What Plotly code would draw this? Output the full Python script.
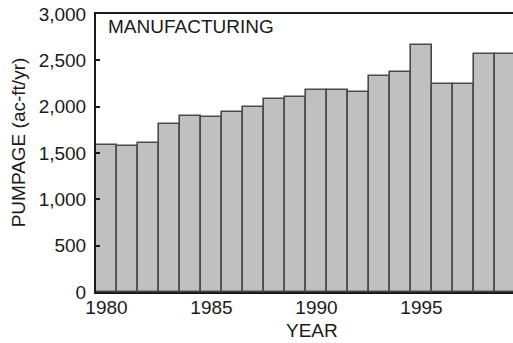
import plotly.graph_objects as go

# Annual manufacturing pumpage, acre-feet per year
years = list(range(1980, 2000))
pumpage = [1590, 1580, 1605, 1815, 1895, 1885, 1945, 2000, 2085, 2100,
           2180, 2175, 2160, 2330, 2370, 2670, 2240, 2240, 2565, 2565]

y_ticks = [0, 500, 1000, 1500, 2000, 2500, 3000]
x_ticks = [1980, 1985, 1990, 1995]

FONT = "Liberation Sans, Arial, Helvetica, sans-serif"
INK = "#1a1a1a"
SIZE = 19

fig = go.Figure(
    go.Bar(
        x=years,
        y=pumpage,
        marker=dict(color="#c0c0c0", line=dict(color="#4a4a4a", width=1.6)),
        width=1.0,
        hoverinfo="x+y",
    )
)

fig.update_layout(
    width=513,
    height=343,
    margin=dict(l=96, r=0, t=14, b=51),
    paper_bgcolor="white",
    plot_bgcolor="white",
    bargap=0,
    showlegend=False,
    font=dict(family=FONT, size=SIZE, color=INK),
)

fig.update_xaxes(
    range=[1979.5, 1999.357],
    tickvals=x_ticks,
    ticks="",
    showgrid=False,
    zeroline=False,
    showline=True,
    linecolor=INK,
    linewidth=2,
    mirror=True,
    tickfont=dict(family=FONT, size=SIZE, color=INK),
    ticklabelstandoff=-3,
)

fig.update_yaxes(
    range=[0, 3000],
    tickvals=y_ticks,
    tickformat=",d",
    ticks="inside",
    ticklen=4,
    tickwidth=1.5,
    tickcolor=INK,
    showgrid=False,
    zeroline=False,
    showline=True,
    linecolor=INK,
    linewidth=2,
    tickfont=dict(family=FONT, size=SIZE, color=INK),
    ticklabelstandoff=4,
)

fig.add_annotation(
    text="MANUFACTURING", x=1979.98, y=2870, xref="x", yref="y",
    xanchor="left", yanchor="middle", showarrow=False,
    font=dict(family=FONT, size=SIZE, color=INK),
)
fig.add_annotation(
    text="YEAR", x=1989.77, y=-0.138, xref="x", yref="paper",
    xanchor="center", yanchor="middle", showarrow=False,
    font=dict(family=FONT, size=SIZE, color=INK),
)
fig.add_annotation(
    text="PUMPAGE (ac-ft/yr)", x=-0.186, y=0.54, xref="paper", yref="paper",
    xanchor="center", yanchor="middle", textangle=-90, showarrow=False,
    font=dict(family=FONT, size=SIZE, color=INK),
)

fig.write_html("out.html")
